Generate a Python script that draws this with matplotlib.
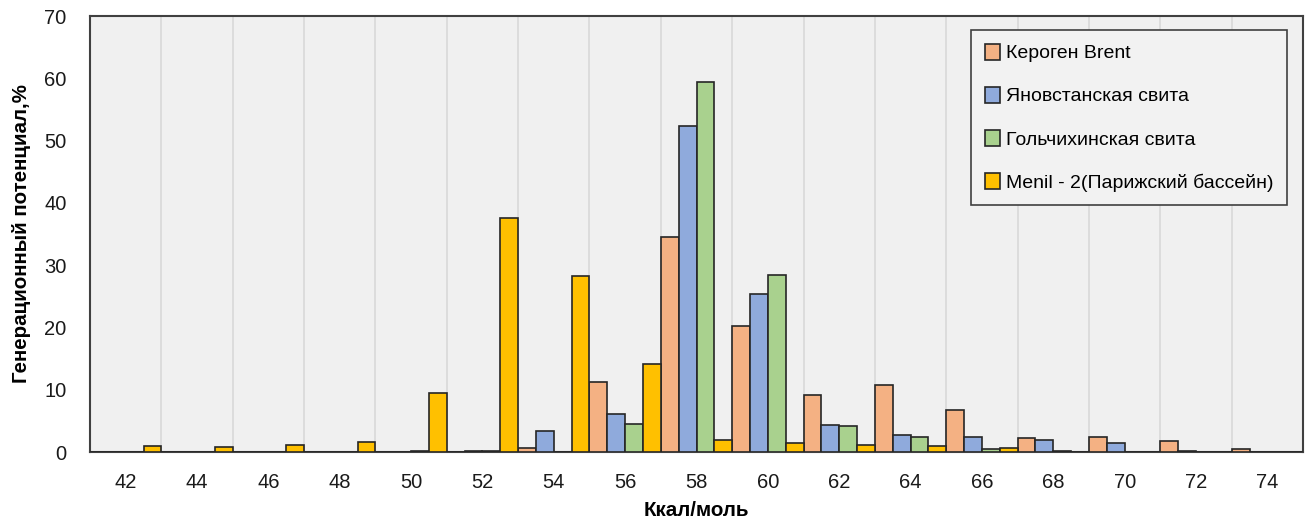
import numpy as np
import matplotlib
matplotlib.use('Agg')
import matplotlib.pyplot as plt

plt.rcParams['font.family'] = ['Liberation Sans', 'DejaVu Sans']

# Energy categories, kcal/mol
energies = [42, 44, 46, 48, 50, 52, 54, 56, 58, 60, 62, 64, 66, 68, 70, 72, 74]

# Generation potential, %
brent = [0, 0, 0, 0, 0, 0, 0.6, 11.3, 34.5, 20.3, 9.2, 10.8, 6.8, 2.3, 2.4, 1.7, 0.45]
yanov = [0, 0, 0, 0, 0, 0.2, 3.3, 6.1, 52.3, 25.3, 4.3, 2.8, 2.4, 1.9, 1.45, 0.15, 0]
golch = [0, 0, 0, 0, 0.1, 0.2, 0, 4.5, 59.4, 28.5, 4.2, 2.45, 0.5, 0.15, 0, 0, 0]
menil = [0.9, 0.8, 1.1, 1.6, 9.5, 37.6, 28.2, 14.1, 1.9, 1.4, 1.1, 0.9, 0.7, 0, 0, 0, 0]

series = [
    ('Кероген Brent', brent, '#F4B183'),
    ('Яновстанская свита', yanov, '#8FAADC'),
    ('Гольчихинская свита', golch, '#A9D18E'),
    ('Menil - 2(Парижский бассейн)', menil, '#FFC000'),
]

fig = plt.figure(figsize=(13.08, 5.25), dpi=100)
ax = fig.add_axes([0.0688, 0.139, 0.9274, 0.8305])
ax.set_facecolor('#F0F0F0')

x = np.arange(len(energies))
w = 0.25
for i, (name, vals, col) in enumerate(series):
    ax.bar(x + (i - 1.5) * w, vals, width=w, color=col, edgecolor='#262626',
           linewidth=1.2, label=name, zorder=3)

ax.set_xlim(-0.5, len(energies) - 0.5)
ax.set_ylim(0, 70)
ax.set_xticks(x)
ax.set_xticklabels([str(e) for e in energies])
ax.set_yticks(range(0, 71, 10))
ax.set_xticks(np.arange(0.5, len(energies) - 0.5), minor=True)
ax.grid(True, which='minor', axis='x', color='#D9D9D9', linewidth=1.2, zorder=0)
ax.tick_params(axis='both', which='both', length=0, labelsize=14.5, colors='#1a1a1a')
ax.tick_params(axis='x', pad=15)
ax.tick_params(axis='y', pad=17)

for s in ax.spines.values():
    s.set_color('#404040')
    s.set_linewidth(1.5)

ax.set_xlabel('Ккал/моль', fontsize=14.8, fontweight='bold')
ax.set_ylabel('Генерационный потенциал,%', fontsize=14.8, fontweight='bold')
ax.xaxis.set_label_coords(0.5, -0.113)
ax.yaxis.set_label_coords(-0.049, 0.5)

leg = ax.legend(loc='upper right', bbox_to_anchor=(0.9868, 0.968), fontsize=14,
                handlelength=0.8, handleheight=0.9, handletextpad=0.3,
                labelspacing=1.25, borderpad=0.7, borderaxespad=0.0, fancybox=False,
                facecolor='#F2F2F2', edgecolor='#404040', framealpha=1)
leg.get_frame().set_linewidth(1.2)

fig.savefig('out.png', dpi=100)
